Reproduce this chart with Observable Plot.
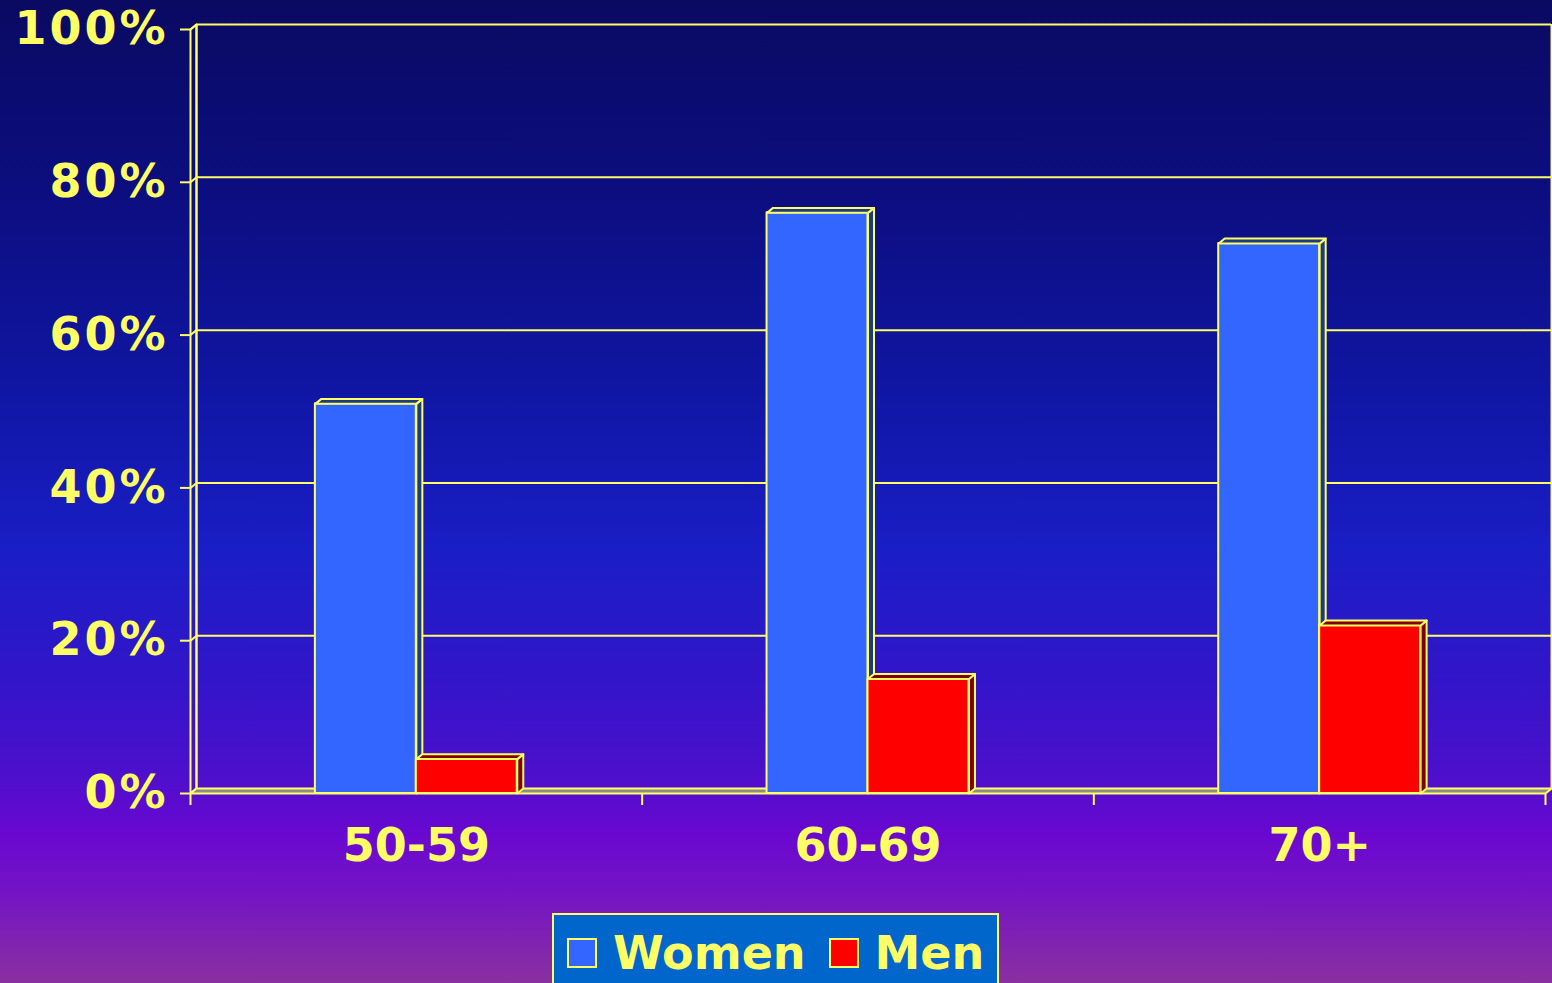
<!DOCTYPE html>
<html>
<head>
<meta charset="utf-8">
<script src="https://cdn.jsdelivr.net/npm/d3@7"></script>
<script src="https://cdn.jsdelivr.net/npm/@observablehq/plot@0.6"></script>
<style>
  html, body { margin: 0; padding: 0; width: 1552px; height: 983px; overflow: hidden; }
  body {
    position: relative;
    background: linear-gradient(to bottom,
      #0a0a62 0%, #0c0e80 20%, #1016a4 40%, #1a1ec6 56%, #3016c8 68%,
      #4a10cc 78%, #6a08d0 85%, #7414c4 91%, #8a30a0 100%);
    font-family: "DejaVu Sans", Verdana, sans-serif;
  }
  #chart svg { display: block; }
  #chart svg g[aria-label="y-axis tick label"] text { letter-spacing: 3px; }
  .legend {
    position: absolute; left: 552px; top: 913px;
    width: 443px; height: 90px;
    background: #0066cc; border: 2px solid #ffff66;
    box-sizing: content-box;
  }
  .legend .row {
    display: flex; align-items: center; height: 30px;
    margin-top: 23px; padding-left: 13px;
  }
  .legend .sw { flex: 0 0 auto; width: 26px; height: 26px; border: 2px solid #ffff66; }
  .legend .lab {
    flex: 0 0 auto;
    color: #ffff66; font-weight: bold; font-size: 46px; line-height: 30px;
    margin-left: 16px; margin-right: 23px; white-space: nowrap;
  }
</style>
</head>
<body>
<div id="chart"></div>
<div class="legend"><div class="row" id="legend-row"></div></div>
<script>
// Share of each age group, by sex (%)
const categories = ["50-59", "60-69", "70+"];
const series = ["Women", "Men"];
const women = [51, 76, 72];
const men = [4.5, 15, 22];
const yTicks = [0, 20, 40, 60, 80, 100];

const YELLOW = "#ffff66";
const colors = {Women: "#3366ff", Men: "#ff0000"};
const shades = {Women: "#1c3a86", Men: "#800000"};

// geometry of the pseudo-3D columns, in scale units
const BAR = 0.2235;   // column width (one category spans 1 unit)
const DX = 0.0133;    // depth offset along x
const DY = 0.65;      // depth offset along y (percentage points)
const N = categories.length;

const bars = categories.flatMap((c, i) => series.map((s, j) => {
  const value = (j === 0 ? women : men)[i];
  const x1 = i + 0.5 - (j === 0 ? BAR : 0);
  return {category: c, series: s, value, x1, x2: x1 + BAR};
}));

const poly = (id, pts) => pts.map(([x, y]) => ({id, x, y}));
const sideFace = b => poly(b.category + b.series + "s",
  [[b.x2, 0], [b.x2 + DX, DY], [b.x2 + DX, b.value + DY], [b.x2, b.value]]);
const topFace = b => poly(b.category + b.series + "t",
  [[b.x1, b.value], [b.x2, b.value], [b.x2 + DX, b.value + DY], [b.x1 + DX, b.value + DY]]);

const floor = poly("floor", [[0, 0], [N, 0], [N + DX, DY], [DX, DY]]);
const leftWall = poly("wall", [[0, 0], [DX, DY], [DX, 100 + DY], [0, 100]]);

function columnMarks(name) {
  const bs = bars.filter(b => b.series === name);
  return [
    Plot.rect(bs, {x1: "x1", x2: "x2", y1: 0, y2: "value", fill: colors[name],
      stroke: YELLOW, strokeWidth: 2, strokeLinejoin: "round"}),
    Plot.line(bs.flatMap(sideFace), {x: "x", y: "y", z: "id", curve: "linear-closed",
      fill: shades[name], stroke: YELLOW, strokeWidth: 2, strokeLinejoin: "round"}),
    Plot.line(bs.flatMap(topFace), {x: "x", y: "y", z: "id", curve: "linear-closed",
      fill: shades[name], stroke: YELLOW, strokeWidth: 2, strokeLinejoin: "round"})
  ];
}

const W = 1552, H = 905;
const chart = Plot.plot({
  width: W,
  height: H,
  marginLeft: 190,
  marginRight: 7,
  marginTop: 29,
  marginBottom: H - 793,
  style: {background: "transparent", fontFamily: "DejaVu Sans, Verdana, sans-serif", overflow: "visible"},
  x: {type: "linear", domain: [0, N]},
  y: {domain: [0, 100]},
  marks: [
    // back wall gridlines and edges
    Plot.ruleY(yTicks.filter(v => v > 0), {y: v => v + DY, x1: DX, x2: N + DX, stroke: YELLOW, strokeWidth: 2}),
    Plot.ruleX([DX, N + DX], {x: d => d, y1: DY, y2: 100 + DY, stroke: YELLOW, strokeWidth: 2}),
    // side wall
    Plot.line(leftWall, {x: "x", y: "y", z: "id", curve: "linear-closed", fill: "none",
      stroke: YELLOW, strokeWidth: 2}),
    Plot.link(yTicks, {x1: 0, y1: v => v, x2: DX, y2: v => v + DY, stroke: YELLOW, strokeWidth: 2}),
    // floor
    Plot.line(floor, {x: "x", y: "y", z: "id", curve: "linear-closed", fill: "#8c8c8c",
      stroke: YELLOW, strokeWidth: 2}),
    // axes
    Plot.axisY(yTicks, {tickSize: 10, tickPadding: 12, tickFormat: d => d + "%",
      fontSize: 46, fontWeight: "bold", color: YELLOW, strokeWidth: 2, label: null}),
    Plot.axisX(d3.range(N + 1), {tickSize: 12, tickFormat: () => "", color: YELLOW,
      strokeWidth: 2, label: null}),
    Plot.axisX(categories.map((c, i) => i + 0.5), {tickSize: 0, tickPadding: 35,
      tickFormat: d => categories[Math.floor(d)], fontSize: 46, fontWeight: "bold",
      color: YELLOW, label: null}),
    // columns
    ...columnMarks("Women"),
    ...columnMarks("Men")
  ]
});
document.getElementById("chart").append(chart);

// legend
const row = document.getElementById("legend-row");
for (const s of series) {
  const sw = document.createElement("div");
  sw.className = "sw";
  sw.style.background = colors[s];
  const lab = document.createElement("div");
  lab.className = "lab";
  lab.textContent = s;
  row.append(sw, lab);
}
</script>
</body>
</html>
